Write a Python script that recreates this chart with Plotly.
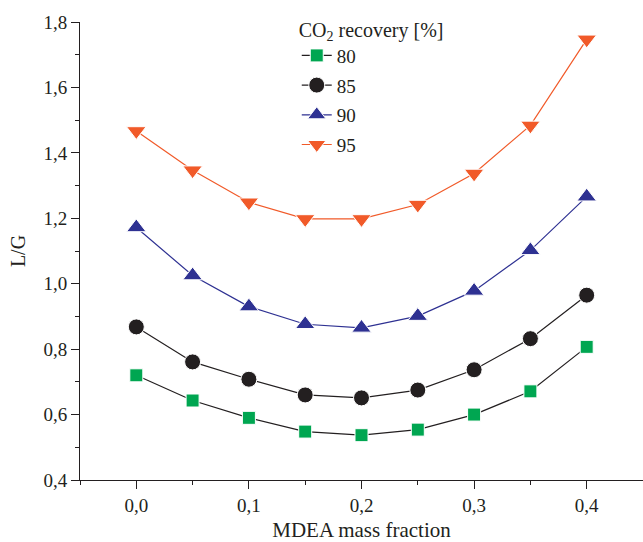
import plotly.graph_objects as go

# MDEA mass fraction (x) and liquid-to-gas ratio L/G for each CO2 recovery level
mdea_fraction = [0.0, 0.05, 0.10, 0.15, 0.20, 0.25, 0.30, 0.35, 0.40]
lg_80 = [0.720, 0.643, 0.590, 0.548, 0.537, 0.554, 0.600, 0.671, 0.807]
lg_85 = [0.868, 0.761, 0.708, 0.660, 0.651, 0.675, 0.737, 0.832, 0.965]
lg_90 = [1.172, 1.025, 0.930, 0.876, 0.865, 0.901, 0.978, 1.102, 1.266]
lg_95 = [1.467, 1.347, 1.249, 1.198, 1.198, 1.242, 1.337, 1.484, 1.747]

series = [
    ("80", lg_80, "square", "#00a651", "#231f20", 13),
    ("85", lg_85, "circle", "#231f20", "#231f20", 16),
    ("90", lg_90, "triangle-up", "#2e3192", "#2e3192", 17),
    ("95", lg_95, "triangle-down", "#f15a29", "#f15a29", 17),
]

FONT = "Liberation Serif, Times New Roman, serif"
AXIS = "#231f20"

fig = go.Figure()
for name, values, symbol, mcolor, lcolor, size in series:
    fig.add_trace(go.Scatter(
        x=mdea_fraction, y=values, name=name, mode="lines+markers",
        legendgroup=name,
        line=dict(color=lcolor, width=1.2),
        marker=dict(symbol=symbol, size=size, color=mcolor,
                    line=dict(color="white", width=1)),
    ))

fig.update_layout(
    width=643, height=542,
    margin=dict(l=80, r=0, t=22, b=62),
    paper_bgcolor="white", plot_bgcolor="white",
    separators=",.",
    font=dict(family=FONT, size=19, color=AXIS),
    showlegend=True,
    legend=dict(
        title=dict(text="CO<sub>2</sub> recovery [%]", font=dict(size=20, family=FONT)),
        x=0.385, y=1.025, xanchor="left", yanchor="top",
        bgcolor="rgba(0,0,0,0)", font=dict(size=19, family=FONT),
        tracegroupgap=2, itemsizing="trace",
    ),
    xaxis=dict(
        range=[-0.05, 0.45], dtick=0.1, tick0=0, tickformat=".1f",
        showgrid=False, zeroline=False,
        showline=True, linecolor=AXIS, linewidth=1,
        ticks="outside", ticklen=8, tickcolor=AXIS,
        minor=dict(dtick=0.05, tick0=0, ticks="outside", ticklen=4, tickcolor=AXIS),
        title=dict(text="MDEA mass fraction", font=dict(size=21, family=FONT), standoff=12),
        tickfont=dict(size=19, family=FONT),
    ),
    yaxis=dict(
        range=[0.4, 1.8], dtick=0.2, tick0=0.4, tickformat=".1f",
        showgrid=False, zeroline=False,
        showline=True, linecolor=AXIS, linewidth=1,
        ticks="outside", ticklen=8, tickcolor=AXIS,
        minor=dict(dtick=0.1, tick0=0.4, ticks="outside", ticklen=4, tickcolor=AXIS),
        title=dict(text="L/G", font=dict(size=20, family=FONT), standoff=12),
        tickfont=dict(size=19, family=FONT),
    ),
)

fig.write_html("out.html")
